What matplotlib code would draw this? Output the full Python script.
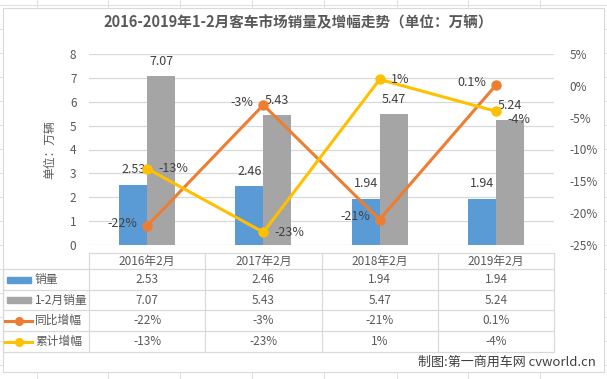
import matplotlib
matplotlib.use("Agg")
import matplotlib.pyplot as plt
from matplotlib.lines import Line2D
from matplotlib.patches import Rectangle
from matplotlib import transforms

plt.rcParams["font.family"] = ["Noto Sans CJK SC", "DejaVu Sans"]
plt.rcParams["axes.unicode_minus"] = False

# ── Data ─────────────────────────────────────────────────────────
categories = ["2016年2月", "2017年2月", "2018年2月", "2019年2月"]
sales_feb = [2.53, 2.46, 1.94, 1.94]            # 销量
sales_jan_feb = [7.07, 5.43, 5.47, 5.24]        # 1-2月销量
yoy_growth = [-22, -3, -21, 0.1]                # 同比增幅 (%)
cum_growth = [-13, -23, 1, -4]                  # 累计增幅 (%)
yoy_labels = ["-22%", "-3%", "-21%", "0.1%"]
cum_labels = ["-13%", "-23%", "1%", "-4%"]
left_ticks = [0, 1, 2, 3, 4, 5, 6, 7, 8]
right_ticks = [5, 0, -5, -10, -15, -20, -25]

# label nudges (points) for the cumulative line, last one sits lower like Excel
cum_label_dy = [0, 0, 0, -6]

BLUE, GRAY, ORANGE, YELLOW = "#5B9BD5", "#A5A5A5", "#ED7D31", "#FFC000"
TXT, GRID = "#595959", "#D9D9D9"

W, H = 607, 379
fig = plt.figure(figsize=(W / 100, H / 100), dpi=100)


def fx(x):
    return x / W


def fy(y):
    return 1 - y / H


# ── Excel sheet background + chart area ─────────────────────────
for x in [37, 108, 180, 252, 324, 397, 468, 540]:
    fig.add_artist(Line2D([fx(x)] * 2, [0, 1], color="#E1E1E1", lw=0.8, zorder=0))
for y in range(5, H, 24):
    fig.add_artist(Line2D([0, 1], [fy(y)] * 2, color="#E1E1E1", lw=0.8, zorder=0))
fig.add_artist(Rectangle((fx(3), fy(372)), fx(601), (372 - 8) / H,
                         facecolor="white", edgecolor=GRID, lw=0.8, zorder=0.5))

# ── Main axes ────────────────────────────────────────────────────
ax = fig.add_axes([fx(89), fy(245), fx(554 - 89), (245 - 54) / H])
ax.set_zorder(2)
ax.patch.set_visible(False)
x = list(range(len(categories)))
bw = 0.24
bars1 = ax.bar([i - bw / 2 for i in x], sales_feb, bw, color=BLUE, zorder=2)
bars2 = ax.bar([i + bw / 2 for i in x], sales_jan_feb, bw, color=GRAY, zorder=2)
ax.set_xlim(-0.5, len(categories) - 0.5)
ax.set_ylim(0, 8)
ax.set_yticks(left_ticks)
ax.yaxis.grid(True, color=GRID, lw=0.9, zorder=0)
ax.set_axisbelow(True)
ax.set_xticks([])
for s in ax.spines.values():
    s.set_visible(False)
ax.tick_params(axis="y", length=0, pad=9, labelsize=8.5, labelcolor=TXT)
ax.set_ylabel("单位：万辆", fontsize=8.5, color=TXT, labelpad=10)

for bars, vals in [(bars1, sales_feb), (bars2, sales_jan_feb)]:
    for b, v in zip(bars, vals):
        ax.annotate(f"{v:.2f}", (b.get_x() + b.get_width() / 2, v),
                    xytext=(0, 6), textcoords="offset points",
                    ha="center", va="bottom", fontsize=9, color="#404040")

# ── Growth lines (right axis) ────────────────────────────────────
ax2 = ax.twinx()
ax2.set_zorder(3)
ax2.plot(x, yoy_growth, color=ORANGE, lw=2.2, marker="o", ms=6.5)
ax2.plot(x, cum_growth, color=YELLOW, lw=2.2, marker="o", ms=6.5)
ax2.set_ylim(-25, 5)
ax2.set_yticks(right_ticks)
ax2.set_yticklabels([f"{t}%" for t in right_ticks])
for s in ax2.spines.values():
    s.set_visible(False)
ax2.tick_params(axis="y", length=0, pad=11, labelsize=8.5, labelcolor=TXT)
ax2.set_xlim(ax.get_xlim())

for i, (v, lab) in enumerate(zip(yoy_growth, yoy_labels)):
    ax2.annotate(lab, (i, v), xytext=(-7, 2), textcoords="offset points",
                 ha="right", va="center", fontsize=9, color="#404040")
for i, (v, lab) in enumerate(zip(cum_growth, cum_labels)):
    ax2.annotate(lab, (i, v), xytext=(8, cum_label_dy[i]), textcoords="offset points",
                 ha="left", va="center", fontsize=9, color="#404040")

# ── Title ────────────────────────────────────────────────────────
fig.text(fx(298), fy(22), "2016-2019年1-2月客车市场销量及增幅走势（单位：万辆）",
         ha="center", va="center", fontsize=10.5, fontweight="bold", color=TXT)

# ── Data table ───────────────────────────────────────────────────
tr = transforms.blended_transform_factory(ax.transData, fig.transFigure)
row_lines = [253, 269, 290, 310, 331, 352]
fig.add_artist(Line2D([fx(89), fx(554)], [fy(253)] * 2, color=GRID, lw=0.9))
for y in row_lines[1:]:
    fig.add_artist(Line2D([fx(3), fx(554)], [fy(y)] * 2, color=GRID, lw=0.9))
fig.add_artist(Line2D([fx(3)] * 2, [fy(269), fy(352)], color=GRID, lw=0.9))
for i in range(len(categories) + 1):
    fig.add_artist(Line2D([i - 0.5] * 2, [fy(253), fy(352)], color=GRID, lw=0.9,
                          transform=tr))

row_mid = [(a + b) / 2 for a, b in zip(row_lines[:-1], row_lines[1:])]
for i, c in enumerate(categories):
    fig.text(i, fy(row_mid[0]), c, transform=tr, ha="center", va="center",
             fontsize=8.5, color=TXT)
rows = [[f"{v:.2f}" for v in sales_feb], [f"{v:.2f}" for v in sales_jan_feb],
        yoy_labels, cum_labels]
for r, vals in enumerate(rows):
    for i, v in enumerate(vals):
        fig.text(i, fy(row_mid[r + 1]), v, transform=tr, ha="center", va="center",
                 fontsize=8.5, color=TXT)

# legend keys in table
names = ["销量", "1-2月销量", "同比增幅", "累计增幅"]
for r, (name, col) in enumerate(zip(names, [BLUE, GRAY, ORANGE, YELLOW])):
    ym = row_mid[r + 1]
    if r < 2:
        fig.add_artist(Rectangle((fx(7), fy(ym + 3)), fx(24), 6 / H, color=col))
    else:
        fig.add_artist(Line2D([fx(5), fx(32)], [fy(ym)] * 2, color=col, lw=2.2))
        fig.add_artist(Line2D([fx(18.5)], [fy(ym)], color=col, marker="o", ms=5.5))
    fig.text(fx(35), fy(ym), name, ha="left", va="center", fontsize=8.5, color=TXT)

# footer
fig.text(fx(596), fy(362), "制图:第一商用车网 cvworld.cn", ha="right", va="center",
         fontsize=9.4, color="#404040")

fig.savefig("out.png", dpi=100)
